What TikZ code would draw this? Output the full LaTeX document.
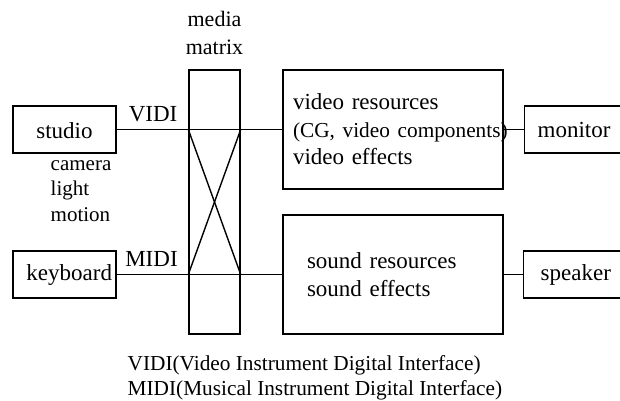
\documentclass[tikz,border=0pt]{standalone}
\usepackage{fontspec}
\setmainfont{Liberation Serif}
\begin{document}
\begin{tikzpicture}[x=1pt, y=-1pt, line width=1.4pt,
  box/.style={draw, rectangle, inner sep=0pt, font=\fontsize{23}{27.5}\selectfont},
  small/.style={inner sep=0pt, font=\fontsize{21}{25.5}\selectfont},
  lbl/.style={inner sep=0pt, font=\fontsize{23}{27.5}\selectfont},
  title/.style={inner sep=0pt, font=\fontsize{22}{28}\selectfont}]
\fill[white] (0,0) rectangle (620,400);
\useasboundingbox (0,0) rectangle (620,400);

% sources
\node[box, minimum width=103pt, minimum height=47pt, text height=18pt, text depth=0pt] (studio) at (64.5,129.5) {studio};
\node[box, minimum width=103pt, minimum height=47pt, text width=95pt,
      inner xsep=4pt, align=right] (keyboard) at (64.5,274.5) {keyboard};
% multi-line nodes: the base anchor sits on the last line
\node[small, align=left, anchor=base west] (cam) at (50,221) {camera\\light\\motion};

% media matrix
\node[box, minimum width=51pt, minimum height=264pt] (mm) at (214.5,202) {};
\node[title, align=center, anchor=base] (mmlabel) at (214.5,54) {media\\matrix};

% resources
\node[box, minimum width=220pt, minimum height=119pt, text width=200pt,
      inner xsep=10pt, align=left] (video) at (393,129.5)
  {video resources\\\mbox{\fontsize{21.3}{27.5}\selectfont (CG, video components)}\\video effects};
\node[box, minimum width=220pt, minimum height=119pt, text width=172pt,
      inner xsep=24pt, align=left] (sound) at (393,274.5)
  {sound resources\\sound effects};

% outputs
\node[box, minimum height=47pt, text width=74pt, inner xsep=13pt,
      align=left, anchor=west] (monitor) at (524,129.5) {monitor};
\node[box, minimum height=47pt, text width=66pt, inner xsep=17pt,
      align=left, anchor=west] (speaker) at (523,274.5) {speaker};

% connections
\draw (studio) -- node[lbl, pos=0.22, above=7pt] (vidi) {VIDI} (video);
\draw (keyboard) -- node[lbl, pos=0.21, above=7.5pt] (midi) {MIDI} (sound);
\draw (mm.west |- studio) -- (mm.east |- keyboard);
\draw (mm.east |- studio) -- (mm.west |- keyboard);
\draw (video) -- (monitor);
\draw (sound) -- (speaker);

% legend
\node[small, font=\fontsize{21.3}{25}\selectfont, align=left, anchor=base west] (legend) at (127,395)
  {VIDI(Video Instrument Digital Interface)\\MIDI(Musical Instrument Digital Interface)};
\end{tikzpicture}
\end{document}
